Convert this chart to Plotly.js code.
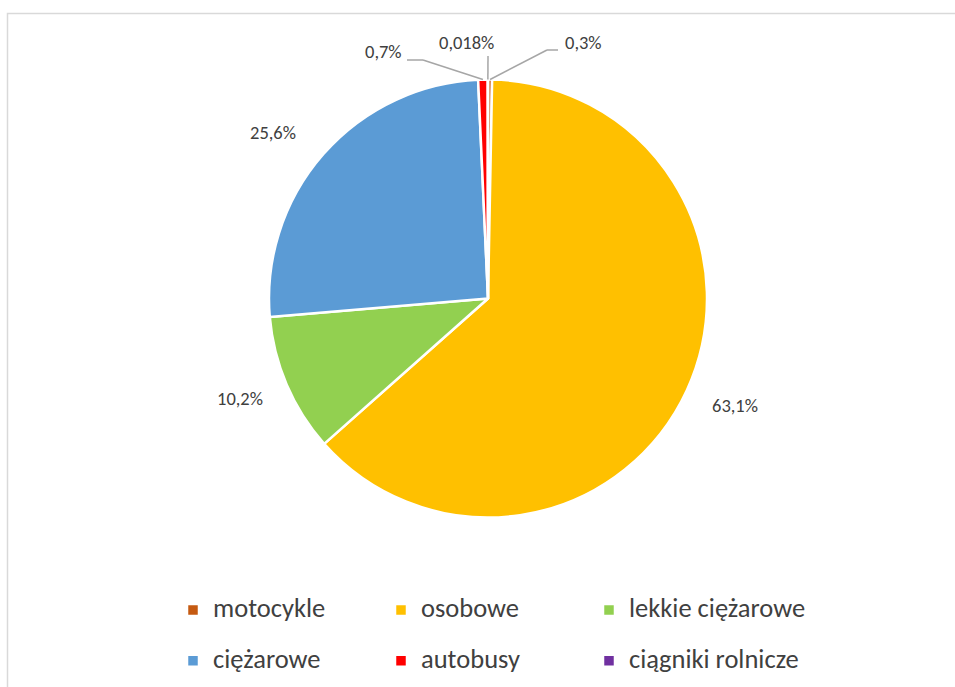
<!DOCTYPE html>
<html><head><meta charset="utf-8">
<script src="https://cdn.plot.ly/plotly-3.0.1.min.js"></script>
<style>html,body{margin:0;padding:0;background:#fff}#chart{width:955px;height:687px}</style>
</head><body><div id="chart"></div>
<script>
// ---- data ----
const categories = ['motocykle', 'osobowe', 'lekkie ciężarowe', 'ciężarowe', 'autobusy', 'ciągniki rolnicze'];
const shares = [0.3, 63.1, 10.2, 25.6, 0.7, 0.018];
const valueLabels = ['0,3%', '63,1%', '10,2%', '25,6%', '0,7%', '0,018%'];
const colors = ['#C55A11', '#FFC000', '#92D050', '#5B9BD5', '#FF0000', '#7030A0'];

// ---- layout config (pixels) ----
const W = 955, H = 687;
const M = {l: 173, r: 82, t: 0, b: 0};          // plot area = legend wrap width
const GW = W - M.l - M.r, GH = H - M.t - M.b;
const FONT = 'Carlito, Lato, sans-serif';
const TEXT = '#404040';
const pieBox = {x0: 268, x1: 708, y0: 79.5, y1: 517.5};
const labelPos = [[583, 43], [735, 405], [240, 398], [273, 132], [383, 52], [466, 43]];
const callouts = {          // elbow points of leader lines for small slices
  0: [[558, 50], [547, 50]],
  4: [[407, 60], [423, 60]],
  5: [[488, 56]]
};

const px = x => (x - M.l) / GW, py = y => 1 - (y - M.t) / GH;
const domain = {x: [px(pieBox.x0), px(pieBox.x1)], y: [py(pieBox.y1), py(pieBox.y0)]};
const cx = (pieBox.x0 + pieBox.x1) / 2, cy = (pieBox.y0 + pieBox.y1) / 2;
const r = Math.min(pieBox.x1 - pieBox.x0, pieBox.y1 - pieBox.y0) / 2;

const total = shares.reduce((a, b) => a + b, 0);
let cum = 0; const midAngle = [];
shares.forEach(v => { midAngle.push((cum + v / 2) / total * 2 * Math.PI); cum += v; });
const edgePt = a => [cx + r * Math.sin(a), cy - r * Math.cos(a)];

const annotations = valueLabels.map((t, i) => ({
  text: t, x: px(labelPos[i][0]), y: py(labelPos[i][1]), xref: 'paper', yref: 'paper',
  showarrow: false, xanchor: 'center', yanchor: 'middle',
  font: {family: FONT, size: 18.5, color: TEXT}
}));

const shapes = [{
  type: 'rect', xref: 'paper', yref: 'paper', layer: 'below',
  x0: px(7.5), x1: px(W + 10), y0: py(H + 10), y1: py(13.5),
  line: {color: '#D9D9D9', width: 1.5}, fillcolor: 'rgba(0,0,0,0)'
}];
Object.keys(callouts).forEach(k => {
  const pts = callouts[k].concat([edgePt(midAngle[k])]);
  for (let j = 0; j < pts.length - 1; j++) {
    shapes.push({type: 'line', xref: 'paper', yref: 'paper',
      x0: px(pts[j][0]), y0: py(pts[j][1]), x1: px(pts[j + 1][0]), y1: py(pts[j + 1][1]),
      line: {color: '#A6A6A6', width: 1.5}});
  }
});

const trace = {
  type: 'pie',
  labels: categories.map(c => '\u00a0<br><span style="font-size:26.5px">' + c + '</span>'),
  values: shares,
  sort: false, direction: 'clockwise', rotation: 0,
  marker: {colors: colors, line: {color: '#FFFFFF', width: 2.5}},
  textinfo: 'none', hoverinfo: 'none',
  domain: domain
};

const layout = {
  width: W, height: H, margin: M,
  paper_bgcolor: '#FFFFFF', plot_bgcolor: '#FFFFFF',
  font: {family: FONT, color: TEXT},
  showlegend: true,
  legend: {orientation: 'h', traceorder: 'normal', x: 0, y: py(567.6), xanchor: 'left', yanchor: 'top',
    entrywidth: 163, entrywidthmode: 'pixels', valign: 'bottom', itemwidth: 30,
    font: {family: FONT, size: 18.4, color: TEXT}, bgcolor: 'rgba(0,0,0,0)'},
  annotations: annotations,
  shapes: shapes
};

Plotly.newPlot('chart', [trace], layout, {staticPlot: true, displayModeBar: false}).then(gd => {
  // let the last legend column's text run past the fixed entry width (as in the reference)
  gd.querySelectorAll('.legend [clip-path]').forEach(el => el.removeAttribute('clip-path'));
});
</script></body></html>
